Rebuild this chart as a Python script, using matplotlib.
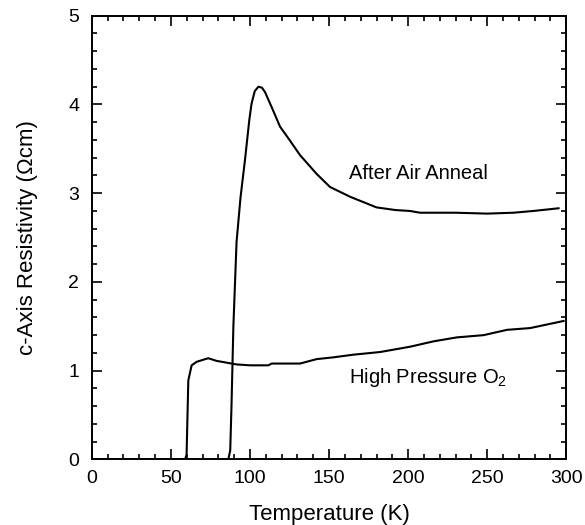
#!/usr/bin/env python

import matplotlib
matplotlib.use('Agg')
import matplotlib.pyplot as plt
from matplotlib.ticker import MultipleLocator

plt.rcParams['font.family'] = ['Liberation Sans', 'DejaVu Sans']
plt.rcParams['mathtext.fontset'] = 'custom'
plt.rcParams['mathtext.rm'] = 'Liberation Sans'

# after air anneal curve (temperature in K, resistivity in Ohm cm)
air_temp = [0, 86.3, 87.5, 88.3, 89.5, 91.5, 94.0, 96.8, 99.6, 101.0, 103.0,
            105.3, 107.5, 109.5, 113.7, 119.0, 125.0, 131.6, 142.0, 150.6,
            163.3, 180.0, 192.0, 201.0, 207.6, 230.0, 250.0, 266.6, 279.3,
            295.1]
air_rho = [0, 0, 0.1, 0.6, 1.5, 2.45, 2.95, 3.37, 3.83, 4.01, 4.15,
           4.20, 4.19, 4.14, 3.97, 3.75, 3.60, 3.43, 3.22, 3.07,
           2.96, 2.84, 2.81, 2.80, 2.78, 2.78, 2.77, 2.78, 2.80,
           2.83]

# high pressure O2 curve
hp_temp = [0, 58.9, 59.9, 61.0, 63.1, 66.3, 73.6, 78.9, 91.6, 100.0, 111.6,
           113.7, 131.6, 142.2, 152.7, 165.4, 182.3, 201.3, 216.0, 230.8,
           247.7, 262.5, 277.2, 298.3]
hp_rho = [0, 0, 0.05, 0.89, 1.06, 1.10, 1.14, 1.11, 1.07, 1.06, 1.06,
          1.08, 1.08, 1.13, 1.15, 1.18, 1.21, 1.27, 1.33, 1.375,
          1.40, 1.46, 1.48, 1.56]

x_ticks = [0, 50, 100, 150, 200, 250, 300]
y_ticks = [0, 1, 2, 3, 4, 5]

fig = plt.figure(figsize=(5.85, 5.25), dpi=100)
ax = fig.add_axes([0.157, 0.125, 0.811, 0.845])

ax.plot(air_temp, air_rho, color='black', lw=1.5)
ax.plot(hp_temp, hp_rho, color='black', lw=1.5)

ax.set_xlim(0, 300)
ax.set_ylim(0, 5)
ax.set_xticks(x_ticks)
ax.set_yticks(y_ticks)
ax.xaxis.set_minor_locator(MultipleLocator(10))
ax.yaxis.set_minor_locator(MultipleLocator(0.2))
ax.tick_params(which='both', direction='in', top=True, right=True,
               width=1.2, labelsize=14)
ax.tick_params(which='major', length=7)
ax.tick_params(axis='x', which='major', pad=8)
ax.tick_params(axis='y', which='major', pad=9)
ax.tick_params(which='minor', length=3.5)
for sp in ax.spines.values():
    sp.set_linewidth(1.4)

ax.set_xlabel('Temperature (K)', fontsize=16, labelpad=12)
ax.set_ylabel('c-Axis Resistivity (\u03a9cm)', fontsize=16, labelpad=22)

ax.text(162.7, 3.22, 'After Air Anneal', fontsize=14.5, va='center')
ax.text(162.7, 0.92, 'High Pressure O$_\\mathregular{2}$', fontsize=14.5,
        va='center')

fig.savefig('out.png', dpi=100)
